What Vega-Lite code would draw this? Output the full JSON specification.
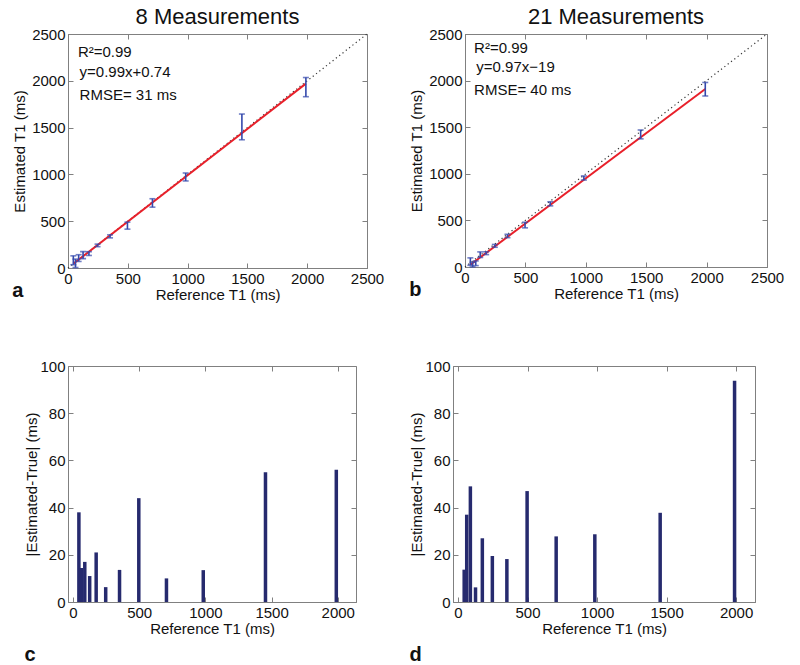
{
  "$schema": "https://vega.github.io/schema/vega-lite/v6.json",
  "padding": {"left": 12, "top": 5, "right": 4, "bottom": 0},
  "background": "white",
  "config": {
    "font": "Liberation Sans",
    "view": {"stroke": "#808080", "strokeWidth": 1},
    "axis": {
      "labelFontSize": 15, "titleFontSize": 15, "titleFontWeight": "normal",
      "labelColor": "#111", "titleColor": "#111",
      "domainColor": "#808080", "tickColor": "#808080",
      "tickSize": -5, "labelPadding": 8, "grid": false, "format": "d",
      "labelFlush": false, "labelOverlap": false, "titlePadding": 4
    },
    "axisX": {"titlePadding": 1},
    "title": {"fontSize": 22, "fontWeight": "normal", "color": "#111"}
  },
  "datasets": {
    "diag": [{"x": 0, "y": 0}, {"x": 2500, "y": 2500}],
    "fit8": [{"x": 44.5, "y": 44.8}, {"x": 1989, "y": 1970}],
    "fit21": [{"x": 44.5, "y": 24}, {"x": 1989, "y": 1910}],
    "ann8": [
      {"x": 83, "y": 2310, "label": "R²=0.99"},
      {"x": 97, "y": 2096, "label": "y=0.99x+0.74"},
      {"x": 97, "y": 1848, "label": "RMSE= 31 ms"}
    ],
    "ann21": [
      {"x": 75, "y": 2347, "label": "R²=0.99"},
      {"x": 94, "y": 2149, "label": "y=0.97x−19"},
      {"x": 75, "y": 1899, "label": "RMSE= 40 ms"}
    ],
    "m8": [
      {"t1": 44.5, "est": 82, "lo": 35, "hi": 130, "diff": 38},
      {"t1": 62.7, "est": 48, "lo": 5, "hi": 95, "diff": 14.4},
      {"t1": 89, "est": 106, "lo": 70, "hi": 142, "diff": 17},
      {"t1": 126, "est": 137, "lo": 100, "hi": 175, "diff": 11},
      {"t1": 175, "est": 154, "lo": 134, "hi": 174, "diff": 21},
      {"t1": 247, "est": 241, "lo": 228, "hi": 255, "diff": 6.3},
      {"t1": 351.5, "est": 338, "lo": 322, "hi": 354, "diff": 13.6},
      {"t1": 497, "est": 453, "lo": 415, "hi": 490, "diff": 44},
      {"t1": 706, "est": 696, "lo": 650, "hi": 740, "diff": 10},
      {"t1": 984, "est": 971, "lo": 930, "hi": 1015, "diff": 13.5},
      {"t1": 1454, "est": 1509, "lo": 1370, "hi": 1645, "diff": 55},
      {"t1": 1989, "est": 1933, "lo": 1830, "hi": 2035, "diff": 56}
    ],
    "m21": [
      {"t1": 44.5, "est": 58, "lo": 18, "hi": 98, "diff": 13.7},
      {"t1": 62.7, "est": 26, "lo": 1, "hi": 51, "diff": 37},
      {"t1": 89, "est": 40, "lo": 15, "hi": 65, "diff": 49},
      {"t1": 126, "est": 132, "lo": 102, "hi": 162, "diff": 6.2},
      {"t1": 175, "est": 148, "lo": 133, "hi": 163, "diff": 27},
      {"t1": 247, "est": 227, "lo": 212, "hi": 242, "diff": 19.5},
      {"t1": 351.5, "est": 333, "lo": 315, "hi": 351, "diff": 18.2},
      {"t1": 497, "est": 450, "lo": 420, "hi": 480, "diff": 47},
      {"t1": 706, "est": 678, "lo": 656, "hi": 700, "diff": 27.8},
      {"t1": 984, "est": 955, "lo": 933, "hi": 977, "diff": 28.7},
      {"t1": 1454, "est": 1416, "lo": 1375, "hi": 1470, "diff": 37.8},
      {"t1": 1989, "est": 1895, "lo": 1835, "hi": 1980, "diff": 93.8}
    ]
  },
  "spacing": 55,
  "columns": 1,
  "align": "none",
  "concat": [
    {
      "spacing": 24,
      "hconcat": [
        {
          "title": {"text": "a", "orient": "bottom", "anchor": "start", "fontSize": 20, "fontWeight": "bold", "offset": -22},
          "vconcat": [
            {
              "width": 299, "height": 234,
              "title": {"text": "8 Measurements", "offset": -2, "frame": "group"},
              "resolve": {"axis": {"x": "independent", "y": "independent"}},
              "layer": [
                {
                  "data": {"name": "diag"},
                  "mark": {"type": "line", "color": "#333", "strokeDash": [1.2, 3], "strokeWidth": 1.2},
                  "encoding": {
                    "x": {"field": "x", "type": "quantitative", "scale": {"domain": [0, 2500], "nice": false},
                          "axis": {"orient": "bottom", "title": "Reference T1 (ms)", "values": [0, 500, 1000, 1500, 2000, 2500]}},
                    "y": {"field": "y", "type": "quantitative", "scale": {"domain": [0, 2500], "nice": false},
                          "axis": {"orient": "left", "title": "Estimated T1 (ms)", "values": [0, 500, 1000, 1500, 2000, 2500]}}
                  }
                },
                {
                  "data": {"name": "fit8"},
                  "mark": {"type": "line", "color": "#e8202a", "strokeWidth": 2},
                  "encoding": {
                    "x": {"field": "x", "type": "quantitative", "scale": {"domain": [0, 2500], "nice": false},
                          "axis": {"orient": "top", "labels": false, "title": null, "domain": false, "values": [0, 500, 1000, 1500, 2000, 2500]}},
                    "y": {"field": "y", "type": "quantitative", "scale": {"domain": [0, 2500], "nice": false},
                          "axis": {"orient": "right", "labels": false, "title": null, "domain": false, "values": [0, 500, 1000, 1500, 2000, 2500]}}
                  }
                },
                {
                  "data": {"name": "m8"},
                  "mark": {"type": "errorbar", "color": "#3448ac", "thickness": 1.6, "ticks": {"size": 6, "thickness": 1.6}},
                  "encoding": {
                    "x": {"field": "t1", "type": "quantitative", "scale": {"domain": [0, 2500], "nice": false}, "axis": null},
                    "y": {"field": "lo", "type": "quantitative", "scale": {"domain": [0, 2500], "nice": false}, "axis": null},
                    "y2": {"field": "hi"}
                  }
                },
                {
                  "data": {"name": "ann8"},
                  "mark": {"type": "text", "align": "left", "baseline": "middle", "fontSize": 15, "color": "#111"},
                  "encoding": {
                    "x": {"field": "x", "type": "quantitative", "scale": {"domain": [0, 2500], "nice": false}, "axis": null},
                    "y": {"field": "y", "type": "quantitative", "scale": {"domain": [0, 2500], "nice": false}, "axis": null},
                    "text": {"field": "label"}
                  }
                }
              ]
            }
          ]
        },
        {
          "title": {"text": "b", "orient": "bottom", "anchor": "start", "fontSize": 20, "fontWeight": "bold", "offset": -22},
          "vconcat": [
            {
              "width": 302, "height": 233,
              "title": {"text": "21 Measurements", "offset": -2, "frame": "group"},
              "resolve": {"axis": {"x": "independent", "y": "independent"}},
              "layer": [
                {
                  "data": {"name": "diag"},
                  "mark": {"type": "line", "color": "#333", "strokeDash": [1.2, 3], "strokeWidth": 1.2},
                  "encoding": {
                    "x": {"field": "x", "type": "quantitative", "scale": {"domain": [0, 2500], "nice": false},
                          "axis": {"orient": "bottom", "title": "Reference T1 (ms)", "values": [0, 500, 1000, 1500, 2000, 2500]}},
                    "y": {"field": "y", "type": "quantitative", "scale": {"domain": [0, 2500], "nice": false},
                          "axis": {"orient": "left", "title": "Estimated T1 (ms)", "values": [0, 500, 1000, 1500, 2000, 2500]}}
                  }
                },
                {
                  "data": {"name": "fit21"},
                  "mark": {"type": "line", "color": "#e8202a", "strokeWidth": 2},
                  "encoding": {
                    "x": {"field": "x", "type": "quantitative", "scale": {"domain": [0, 2500], "nice": false},
                          "axis": {"orient": "top", "labels": false, "title": null, "domain": false, "values": [0, 500, 1000, 1500, 2000, 2500]}},
                    "y": {"field": "y", "type": "quantitative", "scale": {"domain": [0, 2500], "nice": false},
                          "axis": {"orient": "right", "labels": false, "title": null, "domain": false, "values": [0, 500, 1000, 1500, 2000, 2500]}}
                  }
                },
                {
                  "data": {"name": "m21"},
                  "mark": {"type": "errorbar", "color": "#3448ac", "thickness": 1.6, "ticks": {"size": 6, "thickness": 1.6}},
                  "encoding": {
                    "x": {"field": "t1", "type": "quantitative", "scale": {"domain": [0, 2500], "nice": false}, "axis": null},
                    "y": {"field": "lo", "type": "quantitative", "scale": {"domain": [0, 2500], "nice": false}, "axis": null},
                    "y2": {"field": "hi"}
                  }
                },
                {
                  "data": {"name": "ann21"},
                  "mark": {"type": "text", "align": "left", "baseline": "middle", "fontSize": 15, "color": "#111"},
                  "encoding": {
                    "x": {"field": "x", "type": "quantitative", "scale": {"domain": [0, 2500], "nice": false}, "axis": null},
                    "y": {"field": "y", "type": "quantitative", "scale": {"domain": [0, 2500], "nice": false}, "axis": null},
                    "text": {"field": "label"}
                  }
                }
              ]
            }
          ]
        }
      ]
    },
    {
      "spacing": 52,
      "hconcat": [
        {
          "title": {"text": "c", "orient": "bottom", "anchor": "start", "fontSize": 20, "fontWeight": "bold", "offset": 8},
          "vconcat": [
            {
              "width": 288, "height": 236,
              "data": {"name": "m8"},
              "resolve": {"axis": {"x": "independent", "y": "independent"}},
              "layer": [
                {
                  "mark": {"type": "bar", "color": "#262a6e", "size": 3.5},
                  "encoding": {
                    "x": {"field": "t1", "type": "quantitative", "scale": {"domain": [0, 2100], "nice": false},
                          "axis": {"orient": "bottom", "title": "Reference T1 (ms)", "values": [0, 500, 1000, 1500, 2000]}},
                    "y": {"field": "diff", "type": "quantitative", "scale": {"domain": [0, 100], "nice": false},
                          "axis": {"orient": "left", "title": "|Estimated-True| (ms)", "titlePadding": 0, "values": [0, 20, 40, 60, 80, 100]}}
                  }
                },
                {
                  "mark": {"type": "tick", "opacity": 0},
                  "encoding": {
                    "x": {"field": "t1", "type": "quantitative", "scale": {"domain": [0, 2100], "nice": false},
                          "axis": {"orient": "top", "labels": false, "title": null, "domain": false, "values": [0, 500, 1000, 1500, 2000]}},
                    "y": {"field": "diff", "type": "quantitative", "scale": {"domain": [0, 100], "nice": false},
                          "axis": {"orient": "right", "labels": false, "title": null, "domain": false, "values": [0, 20, 40, 60, 80, 100]}}
                  }
                }
              ]
            }
          ]
        },
        {
          "title": {"text": "d", "orient": "bottom", "anchor": "start", "fontSize": 20, "fontWeight": "bold", "offset": 8},
          "vconcat": [
            {
              "width": 302, "height": 236,
              "data": {"name": "m21"},
              "resolve": {"axis": {"x": "independent", "y": "independent"}},
              "layer": [
                {
                  "mark": {"type": "bar", "color": "#262a6e", "size": 3.5},
                  "encoding": {
                    "x": {"field": "t1", "type": "quantitative", "scale": {"domain": [0, 2100], "nice": false},
                          "axis": {"orient": "bottom", "title": "Reference T1 (ms)", "values": [0, 500, 1000, 1500, 2000]}},
                    "y": {"field": "diff", "type": "quantitative", "scale": {"domain": [0, 100], "nice": false},
                          "axis": {"orient": "left", "title": "|Estimated-True| (ms)", "titlePadding": 0, "values": [0, 20, 40, 60, 80, 100]}}
                  }
                },
                {
                  "mark": {"type": "tick", "opacity": 0},
                  "encoding": {
                    "x": {"field": "t1", "type": "quantitative", "scale": {"domain": [0, 2100], "nice": false},
                          "axis": {"orient": "top", "labels": false, "title": null, "domain": false, "values": [0, 500, 1000, 1500, 2000]}},
                    "y": {"field": "diff", "type": "quantitative", "scale": {"domain": [0, 100], "nice": false},
                          "axis": {"orient": "right", "labels": false, "title": null, "domain": false, "values": [0, 20, 40, 60, 80, 100]}}
                  }
                }
              ]
            }
          ]
        }
      ]
    }
  ]
}
